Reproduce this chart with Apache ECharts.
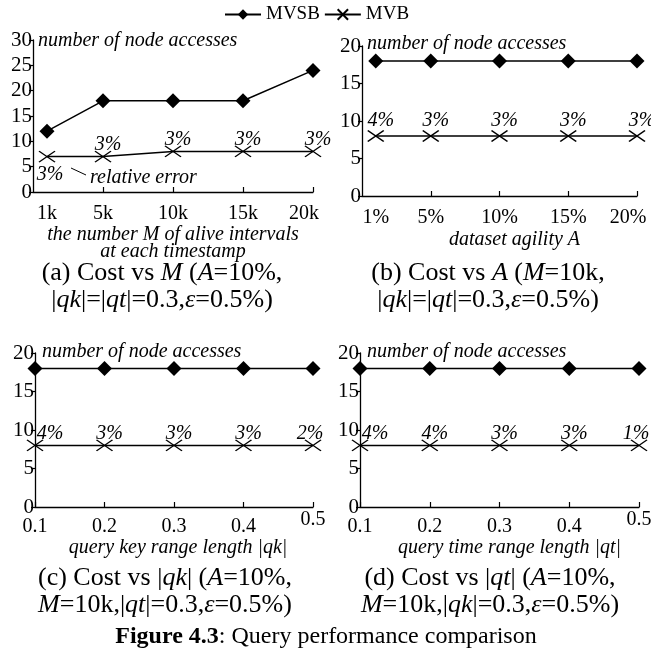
<!DOCTYPE html>
<html><head><meta charset="utf-8">
<script src="https://cdn.jsdelivr.net/npm/echarts@6/dist/echarts.min.js"></script>
<style>html,body{margin:0;padding:0;background:#fff}#c{width:651px;height:652px}</style>
</head><body><div id="c"></div>
<script>
// ---- data ----
const xA = [1, 5, 10, 15, 20];          // M (k)
const mvsbA = [12, 18, 18, 18, 24];
const mvbA = [7, 7, 8, 8, 8];
const errA = ['3%', '3%', '3%', '3%', '3%'];

const xB = [1, 5, 10, 15, 20];          // A (%)
const mvsbB = [18, 18, 18, 18, 18];
const mvbB = [8, 8, 8, 8, 8];
const errB = ['4%', '3%', '3%', '3%', '3%'];

const xC = ['0.1', '0.2', '0.3', '0.4', '0.5']; // |qk|
const mvsbC = [18, 18, 18, 18, 18];
const mvbC = [8, 8, 8, 8, 8];
const errC = ['4%', '3%', '3%', '3%', '2%'];

const xD = ['0.1', '0.2', '0.3', '0.4', '0.5']; // |qt|
const mvsbD = [18, 18, 18, 18, 18];
const mvbD = [8, 8, 8, 8, 8];
const errD = ['4%', '4%', '3%', '3%', '1%'];

const yTicksA = [0, 30, 5];
const yTicksOther = [0, 20, 5];

// ---- styling ----
const F = 'Liberation Serif';
const BLACK = '#000';
const chart = echarts.init(document.getElementById('c'), null, {renderer: 'canvas'});

const grids = [
  {left: 33, top: 40, width: 280, height: 152},
  {left: 362, top: 46, width: 275, height: 150},
  {left: 35, top: 353, width: 278, height: 154},
  {left: 360, top: 353, width: 279, height: 154}
].map(g => Object.assign({outerBoundsMode: 'none', containLabel: false}, g));

const axisLine = {lineStyle: {color: BLACK, width: 1.3}};
function yAxis(idx, t) {
  return {
    type: 'value', gridIndex: idx, min: t[0], max: t[1], interval: t[2],
    axisLine: Object.assign({show: true}, axisLine),
    axisTick: {show: true, inside: false, length: 4, lineStyle: {color: BLACK, width: 1.2}},
    axisLabel: {color: BLACK, fontFamily: F, fontSize: 21, margin: 1},
    splitLine: {show: false}
  };
}
const nameStyle = {color: BLACK, fontFamily: F, fontSize: 20, fontStyle: 'italic', lineHeight: 17};
const tickRich = {
  last: {fontFamily: F, fontSize: 20, color: BLACK, padding: [0, 18, 0, 0]},
  hi: {fontFamily: F, fontSize: 20, color: BLACK, lineHeight: 6}
};
function xValAxis(idx, labels, name, nameGap, pad, suffix, margin) {
  const maxV = labels[labels.length - 1];
  return {
    type: 'value', gridIndex: idx, min: 0, max: 20, interval: 5,
    axisLine: axisLine,
    axisTick: {show: true, inside: true, length: 5, customValues: [5, 10, 15, 20], lineStyle: {color: BLACK, width: 1.2}},
    axisLabel: {color: BLACK, fontFamily: F, fontSize: 20, margin: margin, customValues: labels,
      rich: tickRich,
      formatter: v => v === maxV ? '{last|' + v + suffix + '}' : v + suffix},
    splitLine: {show: false},
    name: name, nameLocation: 'middle', nameGap: nameGap,
    nameTextStyle: Object.assign({padding: pad}, nameStyle)
  };
}
function xCatAxis(idx, cats, name, nameGap, pad) {
  const last = cats[cats.length - 1];
  return {
    type: 'category', gridIndex: idx, data: cats, boundaryGap: false,
    axisLine: axisLine,
    axisTick: {show: true, inside: true, length: 5, lineStyle: {color: BLACK, width: 1.2}},
    axisLabel: {color: BLACK, fontFamily: F, fontSize: 20, margin: 10, interval: 0,
      rich: tickRich, formatter: v => v === last ? '{hi|' + v + '}' : v},
    splitLine: {show: false},
    name: name, nameLocation: 'middle', nameGap: nameGap,
    nameTextStyle: Object.assign({padding: pad}, nameStyle)
  };
}

const xSym = 'path://M0,0L16,10M16,0L0,10';
const lineStyle = {color: BLACK, width: 1.5};
function labelCfg(panel, i, n) {
  const base = {show: true, position: 'top', distance: -4, color: BLACK, fontFamily: F,
    fontSize: 20, fontStyle: 'italic', offset: [5, 0]};
  if (panel === 0 && i === 0) { base.position = 'bottom'; base.distance = 2; base.offset = [3, 0]; }
  if (panel === 1) base.distance = -1;
  if (panel >= 2 && i === 0) base.offset = [15, 0];
  if (panel >= 2 && i === n - 1) base.offset = [-3, 0];
  return base;
}
function seriesPair(idx, xs, sb, b, errs, isCat) {
  const mk = (arr) => arr.map((v, i) => isCat ? v : [xs[i], v]);
  return [
    {name: 'MVSB', type: 'line', xAxisIndex: idx, yAxisIndex: idx, data: mk(sb),
      symbol: 'diamond', symbolSize: 15, lineStyle: lineStyle,
      itemStyle: {color: BLACK}, animation: false},
    {name: 'MVB', type: 'line', xAxisIndex: idx, yAxisIndex: idx,
      data: mk(b).map((v, i) => ({value: v, label: labelCfg(idx, i, b.length)})),
      label: {formatter: p => errs[p.dataIndex]},
      symbol: xSym, symbolSize: [16, 11], lineStyle: lineStyle,
      itemStyle: {color: BLACK, borderColor: BLACK, borderWidth: 1.3}, animation: false}
  ];
}

const annStyle = {fill: BLACK, font: 'italic 20px "Liberation Serif"', textVerticalAlign: 'middle'};
function ann(x, y, t) { return {type: 'text', x: x, y: y, style: Object.assign({text: t}, annStyle), z: 10}; }

const capRich = {
  i: {fontFamily: F, fontSize: 26, fontStyle: 'italic', fill: BLACK, color: BLACK},
  b: {fontFamily: F, fontSize: 24, fontWeight: 'bold', fill: BLACK, color: BLACK},
  n: {fontFamily: F, fontSize: 24, fill: BLACK, color: BLACK}
};
function cap(x, y, t) {
  return {type: 'text', x: x, y: y, style: {text: t, fill: BLACK, font: '26px "Liberation Serif"',
    textAlign: 'center', textVerticalAlign: 'middle', lineHeight: 27, rich: capRich}};
}

chart.setOption({
  animation: false,
  backgroundColor: '#fff',
  legend: {
    top: 0, left: 219, itemWidth: 36, itemHeight: 13, itemGap: 4,
    data: ['MVSB', 'MVB'],
    textStyle: {color: BLACK, fontFamily: F, fontSize: 19}
  },
  grid: grids,
  xAxis: [
    xValAxis(0, xA, 'the number M of alive intervals\nat each timestamp', 26, [0, 0, 0, 0], 'k', 12),
    xValAxis(1, xB, 'dataset agility A', 35, [0, 0, 0, 30], '%', 12),
    xCatAxis(2, xC, 'query key range length |qk|', 32, [0, 0, 0, 8]),
    xCatAxis(3, xD, 'query time range length |qt|', 32, [0, 0, 0, 20])
  ],
  yAxis: [yAxis(0, yTicksA), yAxis(1, yTicksOther), yAxis(2, yTicksOther), yAxis(3, yTicksOther)],
  series: [].concat(
    seriesPair(0, xA, mvsbA, mvbA, errA, false),
    seriesPair(1, xB, mvsbB, mvbB, errB, false),
    seriesPair(2, xC, mvsbC, mvbC, errC, true),
    seriesPair(3, xD, mvsbD, mvbD, errD, true)
  ),
  graphic: [
    ann(38, 41, 'number of node accesses'),
    ann(367, 44, 'number of node accesses'),
    ann(42, 352, 'number of node accesses'),
    ann(367, 352, 'number of node accesses'),
    ann(90, 178, 'relative error'),
    {type: 'line', shape: {x1: 71, y1: 168, x2: 86, y2: 175}, style: {stroke: BLACK, lineWidth: 1}},
    cap(162, 287, '(a) Cost vs {i|M} ({i|A}=10%,\n|{i|qk}|=|{i|qt}|=0.3,{i|ε}=0.5%)'),
    cap(488, 287, '(b) Cost vs {i|A} ({i|M}=10k,\n|{i|qk}|=|{i|qt}|=0.3,{i|ε}=0.5%)'),
    cap(165, 592, '(c) Cost vs |{i|qk}| ({i|A}=10%,\n{i|M}=10k,|{i|qt}|=0.3,{i|ε}=0.5%)'),
    cap(490, 592, '(d) Cost vs |{i|qt}| ({i|A}=10%,\n{i|M}=10k,|{i|qk}|=0.3,{i|ε}=0.5%)'),
    {type: 'text', x: 326, y: 637, style: {text: '{b|Figure 4.3}{n|: Query performance comparison}',
      textAlign: 'center', textVerticalAlign: 'middle', rich: capRich}}
  ]
});
</script></body></html>
